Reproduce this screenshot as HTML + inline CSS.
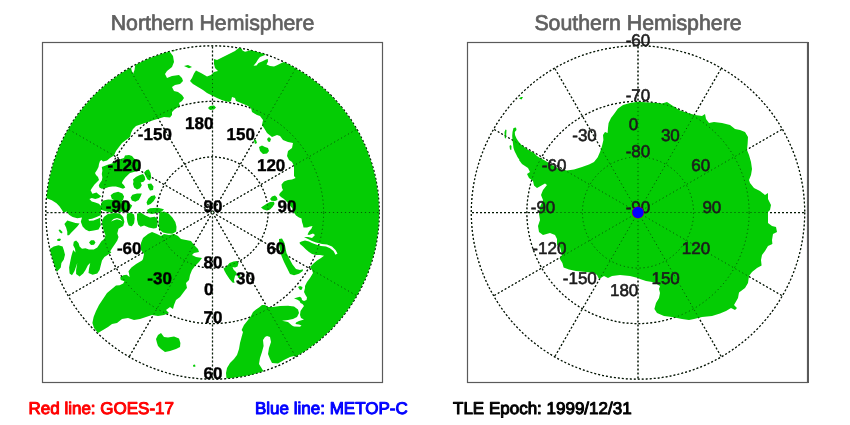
<!DOCTYPE html>
<html><head><meta charset="utf-8"><title>Hemispheres</title>
<style>
html,body{margin:0;padding:0;background:#fff;}
body{width:850px;height:425px;overflow:hidden;font-family:"Liberation Sans",sans-serif;}
svg{display:block;font-family:"Liberation Sans",sans-serif;text-rendering:geometricPrecision;will-change:transform;}
</style></head><body>
<svg width="850" height="425" viewBox="0 0 850 425">
<defs>
<clipPath id="cn"><circle cx="212.5" cy="212.5" r="166.7"/></clipPath>
<clipPath id="cs"><circle cx="638.0" cy="212.5" r="166.7"/></clipPath>
</defs>
<rect width="850" height="425" fill="#fff"/>
<g font-size="21.3" fill="#606060" stroke="#606060" stroke-width="0.7" text-anchor="middle">
<text x="212.5" y="30.4">Northern Hemisphere</text>
<text x="638" y="30.4">Southern Hemisphere</text>
</g>
<g fill="none" stroke="#000" stroke-width="1.25" stroke-dasharray="2 2"><circle cx="212.5" cy="212.5" r="55.57"/><circle cx="212.5" cy="212.5" r="111.13"/><circle cx="212.5" cy="212.5" r="166.70"/><line x1="212.5" y1="212.5" x2="212.50" y2="45.80"/><line x1="212.5" y1="212.5" x2="295.85" y2="68.13"/><line x1="212.5" y1="212.5" x2="356.87" y2="129.15"/><line x1="212.5" y1="212.5" x2="379.20" y2="212.50"/><line x1="212.5" y1="212.5" x2="356.87" y2="295.85"/><line x1="212.5" y1="212.5" x2="295.85" y2="356.87"/><line x1="212.5" y1="212.5" x2="212.50" y2="379.20"/><line x1="212.5" y1="212.5" x2="129.15" y2="356.87"/><line x1="212.5" y1="212.5" x2="68.13" y2="295.85"/><line x1="212.5" y1="212.5" x2="45.80" y2="212.50"/><line x1="212.5" y1="212.5" x2="68.13" y2="129.15"/><line x1="212.5" y1="212.5" x2="129.15" y2="68.13"/></g>
<g fill="none" stroke="#000" stroke-width="1.25" stroke-dasharray="2 2"><circle cx="638.0" cy="212.5" r="55.57"/><circle cx="638.0" cy="212.5" r="111.13"/><circle cx="638.0" cy="212.5" r="166.70"/><line x1="638.0" y1="212.5" x2="638.00" y2="45.80"/><line x1="638.0" y1="212.5" x2="721.35" y2="68.13"/><line x1="638.0" y1="212.5" x2="782.37" y2="129.15"/><line x1="638.0" y1="212.5" x2="804.70" y2="212.50"/><line x1="638.0" y1="212.5" x2="782.37" y2="295.85"/><line x1="638.0" y1="212.5" x2="721.35" y2="356.87"/><line x1="638.0" y1="212.5" x2="638.00" y2="379.20"/><line x1="638.0" y1="212.5" x2="554.65" y2="356.87"/><line x1="638.0" y1="212.5" x2="493.63" y2="295.85"/><line x1="638.0" y1="212.5" x2="471.30" y2="212.50"/><line x1="638.0" y1="212.5" x2="493.63" y2="129.15"/><line x1="638.0" y1="212.5" x2="554.65" y2="68.13"/></g>
<g clip-path="url(#cn)"><path fill="#04cc04" fill-rule="evenodd" d="M45.9,198.0 51.8,200.3 56.5,203.2 59.4,206.2 61.8,209.7 63.5,212.4 66.7,211.5 69.0,214.7 72.6,217.0 77.3,218.2 82.0,217.6 80.8,221.8 82.6,226.5 85.5,229.4 89.0,231.2 93.8,230.6 98.5,229.4 100.8,225.3 100.2,221.2 100.5,217.4 98.0,218.8 93.5,220.6 89.0,220.8 88.5,219.3 92.0,218.8 96.0,217.2 100.0,215.5 100.7,214.9 100.8,213.0 101.2,209.2 101.2,209.7 104.7,211.1 109.6,212.2 120.0,212.0 128.7,211.1 130.8,208.3 132.2,205.5 129.4,203.4 125.0,201.0 121.5,200.5 123.0,200.0 124.1,196.5 122.4,193.5 118.2,191.8 113.5,193.0 110.6,195.3 111.8,198.8 113.9,199.9 111.8,199.8 108.2,199.5 103.3,200.5 101.0,203.5 101.1,206.1 98.8,203.8 95.3,202.6 91.8,201.5 89.4,199.0 91.8,198.0 95.3,199.0 98.8,198.0 101.2,196.2 98.8,194.4 96.5,192.6 92.4,193.8 90.6,190.3 92.0,188.0 94.5,184.5 97.0,182.0 99.0,180.0 98.0,177.0 96.0,175.0 95.0,173.0 97.0,170.0 98.5,167.0 99.0,164.0 100.0,161.0 101.5,160.0 103.0,161.5 107.0,160.5 110.0,158.0 114.0,155.5 116.0,151.0 119.0,147.0 122.0,143.0 126.0,140.0 130.0,137.0 131.0,133.0 133.0,129.0 136.0,126.0 142.0,124.0 148.0,122.0 154.0,120.0 159.0,118.5 164.0,117.0 170.0,117.6 172.0,115.0 172.0,112.0 175.0,109.0 180.0,106.0 179.0,103.0 182.0,101.0 184.0,98.0 182.0,95.0 178.0,92.0 174.0,91.0 172.0,87.0 175.0,85.0 180.0,84.0 183.0,81.0 182.0,78.0 179.0,75.0 172.0,76.0 167.0,78.0 165.0,74.0 167.0,71.0 172.0,67.0 174.0,62.0 173.0,56.0 170.0,52.0 170.0,25.0 25.0,25.0 25.0,198.0ZM135.5,63.0 134.5,70.0 133.0,74.0 131.5,70.0 130.5,64.0ZM214.0,59.0 214.0,64.0 215.0,68.0 218.0,71.0 214.0,72.0 211.0,75.0 207.0,76.4 201.0,73.0 196.0,70.4 194.0,73.6 192.0,78.0 190.0,81.0 193.0,84.0 198.0,87.0 203.0,90.0 207.0,93.0 212.0,95.6 217.0,98.0 223.0,100.4 229.0,102.0 231.0,101.0 232.0,97.0 235.0,98.0 236.0,101.0 241.0,103.0 247.0,105.6 251.0,108.0 252.0,112.0 257.0,115.0 260.0,116.0 263.0,120.0 262.0,125.0 264.0,128.0 267.0,133.0 272.0,137.0 277.0,135.0 280.0,136.0 283.0,140.0 288.0,142.0 293.0,143.0 292.0,148.0 288.0,151.0 287.0,156.0 289.0,160.0 292.0,162.0 294.0,166.0 294.0,171.0 294.0,176.0 295.6,178.0 292.0,179.5 288.0,180.0 284.0,181.5 281.5,184.5 282.0,188.0 283.0,190.0 280.0,193.0 279.0,195.0 281.0,197.0 284.0,199.0 288.0,203.0 292.0,208.0 294.0,212.5 296.0,215.5 299.0,217.5 301.5,218.5 302.0,222.0 303.0,225.0 303.5,227.5 307.0,227.5 310.0,226.5 312.5,226.0 311.5,228.5 309.0,231.5 307.5,234.5 309.0,235.0 313.0,233.5 315.0,235.0 312.0,238.0 308.0,237.0 304.0,237.0 307.0,238.5 312.0,241.0 316.0,242.5 322.0,244.0 327.0,244.5 332.0,246.5 335.5,250.0 337.5,253.5 335.5,254.7 333.5,251.0 330.0,248.2 326.0,246.5 321.0,246.0 316.0,244.5 312.0,243.0 309.0,241.5 305.0,240.5 301.5,241.5 299.5,242.5 300.0,244.0 303.0,246.5 306.0,249.5 309.0,252.0 312.0,254.0 316.0,255.0 320.0,255.0 324.0,255.8 321.0,258.0 317.0,260.5 313.5,263.5 310.0,267.0 312.0,270.0 313.0,273.0 310.0,278.0 307.0,282.0 305.0,286.0 305.0,288.0 304.0,292.0 305.5,295.0 307.0,297.5 306.5,300.0 304.0,301.0 302.0,300.0 301.5,298.0 300.0,296.8 297.0,297.5 294.0,298.5 297.0,299.5 299.5,301.0 300.5,303.0 302.5,304.0 304.0,306.0 302.5,308.0 300.5,311.0 300.0,315.0 301.0,318.0 304.0,319.5 299.0,321.0 296.0,322.5 295.5,324.0 299.0,324.5 301.5,325.5 300.0,326.8 294.0,326.5 292.0,325.5 288.0,322.0 282.0,320.8 288.0,320.0 293.0,319.0 297.0,317.0 299.0,313.0 298.0,309.5 294.0,306.5 288.0,305.8 280.0,306.0 273.0,307.0 268.0,307.0 265.0,305.0 262.0,305.0 259.0,307.5 256.0,309.5 253.0,312.0 251.0,316.0 248.0,320.0 244.0,325.0 241.6,330.0 243.0,332.0 241.6,337.0 240.0,343.0 239.0,349.0 237.0,355.0 234.0,359.0 230.0,363.0 227.0,368.0 226.0,373.0 226.5,379.0 226.0,400.0 430.0,400.0 430.0,15.0 240.0,15.0 240.0,47.0 235.0,51.0 229.0,54.0 223.0,57.0 217.0,60.0ZM241.0,44.0 250.0,44.0 250.0,50.3 248.0,51.0 245.0,51.8 242.5,50.5 240.8,47.0ZM275.0,45.0 290.0,55.0 285.0,61.5 281.0,63.2 277.0,65.2 274.0,66.5 270.0,66.0 266.5,64.5 268.0,61.5 267.8,59.0 266.0,59.5 262.0,61.5 258.5,63.0 256.5,65.5 253.5,65.8 256.2,62.5 258.0,59.5 260.0,57.0 265.0,55.0 268.0,53.0ZM267.0,336.0 270.0,337.0 271.0,342.0 269.0,348.0 268.0,354.0 270.0,359.0 272.0,363.0 278.0,363.6 284.0,360.0 290.0,357.0 294.0,356.0 302.0,362.0 275.0,385.0 264.0,372.0 259.0,364.0 260.0,358.0 262.0,352.0 263.6,346.0 263.0,340.0 265.0,337.0ZM60.8,267.6 61.4,263.0 63.8,259.4 65.0,254.7 63.8,250.0 62.6,246.5 58.5,245.3 53.8,246.5 50.2,248.8 40.0,248.0 40.0,275.0 56.7,272.0 58.5,270.0ZM99.4,187.6 101.8,188.8 105.3,188.2 108.8,187.0 112.4,186.5 115.9,186.5 119.4,187.6 123.0,188.8 125.3,187.6 124.0,185.3 121.8,183.0 123.0,180.6 125.3,177.6 127.6,175.3 130.0,173.0 134.7,171.8 138.8,170.6 140.0,167.0 139.5,163.0 137.0,160.0 134.0,158.5 132.0,156.0 129.0,155.0 125.0,155.5 124.0,158.0 119.0,159.5 113.5,163.0 107.6,164.7 101.8,167.0 102.4,170.6 101.8,174.0 102.4,177.6 101.8,180.6 100.0,183.0 98.8,185.3ZM148.8,169.4 146.5,170.0 144.1,172.4 144.7,174.1 145.9,176.5 147.6,179.4 150.0,180.6 151.2,177.0 150.6,173.0ZM140.6,182.4 143.5,181.8 145.3,179.4 144.7,176.5 143.0,174.1 139.4,175.3 135.9,177.0 133.0,179.4 133.5,181.8 133.0,184.1 134.1,187.6 137.0,189.4 140.0,188.2 141.8,185.3ZM148.2,187.6 150.0,190.6 153.0,190.0 153.5,186.5 151.2,183.5 147.6,184.1ZM132.4,194.7 130.6,197.6 131.8,200.6 135.3,201.8 138.8,200.0 140.6,196.5 141.8,193.5 137.0,193.5ZM148.2,198.8 146.5,202.4 147.6,205.3 150.6,204.1 153.5,201.2 155.9,197.6 154.7,195.3 151.2,195.9ZM134.1,214.4 130.6,212.6 127.0,213.8 126.7,217.4 127.4,222.0 128.8,225.6 131.8,226.2 134.1,223.2 134.7,218.5ZM156.6,228.0 157.6,224.4 157.2,218.5 154.7,216.8 150.0,217.4 145.3,215.6 140.6,212.6 137.0,213.8 137.0,219.7 138.2,224.4 140.6,226.8 144.1,225.6 148.8,227.4 153.5,228.5ZM77.3,226.5 79.6,223.5 75.5,223.0 71.4,221.8 67.3,220.6 64.4,224.1 66.1,227.6 67.3,231.8 67.3,235.3 69.0,235.3 71.4,232.4 74.4,229.4ZM62.0,233.5 62.5,232.0 60.0,229.5 58.5,230.0 60.0,232.5ZM60.0,241.0 61.0,239.0 59.0,238.5 57.0,239.5 57.5,241.0ZM91.0,245.0 94.0,244.8 95.5,242.5 94.0,240.2 91.0,240.2 89.0,242.5ZM97.3,247.6 93.8,249.4 89.0,249.4 85.5,248.2 82.0,248.8 79.6,246.5 78.5,243.0 76.1,240.6 73.8,241.8 73.2,245.3 75.0,248.8 75.5,252.4 73.2,250.0 71.4,255.9 70.2,261.8 69.1,267.6 69.6,273.5 72.0,275.3 74.4,271.2 76.1,266.5 77.3,263.0 76.1,270.0 76.1,274.1 79.6,276.5 83.2,273.5 85.5,270.0 87.9,265.3 90.2,263.0 89.0,268.8 88.5,273.0 92.6,274.7 97.3,273.5 99.6,270.0 100.8,265.3 102.0,260.6 104.4,257.0 107.9,254.7 111.4,252.4 110.2,251.2 112.6,247.6 115.0,244.1 117.3,240.6 118.5,237.0 117.3,233.5 118.5,228.8 123.2,225.9 124.4,221.8 123.2,217.0 119.6,213.5 113.8,213.0 107.9,214.1 103.8,217.0 102.0,221.2 102.6,226.5 103.8,231.2 105.5,235.3 104.4,238.8 101.4,241.2 99.6,244.1ZM113.5,219.0 117.0,218.0 120.5,219.0 122.5,221.5 120.5,220.3 117.0,219.3 114.0,220.2 111.0,221.5ZM134.0,320.0 140.0,319.0 146.0,317.0 152.0,315.0 158.0,316.0 164.0,315.0 169.0,313.0 166.0,310.0 170.0,307.0 173.0,309.0 174.0,305.0 176.0,300.0 180.0,297.0 183.0,293.0 186.0,289.0 187.0,288.0 186.0,283.0 189.0,280.0 190.0,275.0 192.0,270.0 195.0,266.0 199.0,262.0 202.0,258.0 196.0,257.0 192.0,255.0 194.0,253.0 199.0,252.0 198.0,249.0 194.0,245.0 191.0,241.0 186.0,240.0 181.0,239.0 178.0,236.0 174.0,234.0 169.0,235.0 164.0,234.0 161.0,236.0 157.0,234.0 152.0,232.0 148.0,234.0 143.0,238.0 141.0,243.0 141.0,250.0 144.0,254.0 143.0,259.0 142.0,260.6 136.1,264.1 131.4,267.6 128.5,271.2 129.0,273.5 129.6,277.0 126.7,274.7 123.2,275.3 120.2,277.6 120.8,280.0 124.4,281.2 123.2,283.5 119.6,285.3 116.0,285.5 113.0,288.0 107.0,293.0 103.0,299.0 99.0,305.0 96.0,311.0 93.6,317.0 92.4,323.0 94.0,328.0 98.0,333.0 103.0,330.0 108.0,327.0 112.0,324.0 117.0,323.0 122.0,319.0 128.0,318.0ZM173.5,49.8 171.0,50.5 173.5,51.6 176.0,50.2ZM188.0,65.0 184.0,66.0 189.0,68.2 192.0,67.0ZM210.0,110.0 214.0,109.5 216.0,107.5 214.0,105.6 210.0,106.0 208.0,108.0ZM270.0,142.0 271.0,139.0 269.0,137.0 267.0,139.0 268.0,141.5ZM256.0,140.0 253.6,139.6 255.0,144.0 257.0,143.0ZM262.0,145.6 259.0,147.0 260.0,151.0 263.0,154.0 267.0,153.6 269.0,151.0 268.0,148.0 265.0,147.0ZM270.0,199.0 271.5,200.8 275.0,201.0 277.5,200.0 277.0,197.5 275.0,195.5 272.0,196.5ZM270.0,202.0 267.0,203.5 264.0,205.5 261.0,207.5 263.5,209.5 267.0,210.5 270.0,209.5 272.5,207.0 274.5,204.0 274.0,201.8ZM150.0,208.3 147.0,210.0 148.0,213.0 152.0,214.0 158.0,212.8 162.0,211.5 164.0,209.3 158.0,207.8ZM176.2,231.5 176.5,226.8 175.3,222.0 172.4,217.4 168.8,213.8 164.1,211.5 159.4,212.6 159.0,218.5 158.6,224.4 159.4,229.5 163.0,232.6 167.6,233.6 172.4,233.8ZM294.0,275.2 299.0,273.7 302.8,271.0 303.0,269.3 300.0,270.0 296.0,269.0 292.5,264.5 289.5,259.0 286.5,253.0 285.5,248.0 284.5,243.0 282.0,238.5 279.0,239.0 279.0,245.0 280.0,250.0 281.5,256.0 284.0,262.0 287.0,268.0 290.0,274.0ZM235.0,276.0 237.0,274.0 236.0,272.0 233.5,269.5 232.5,267.0 235.0,267.5 237.5,266.5 238.5,263.0 237.0,261.0 233.5,261.5 229.5,263.0 226.5,266.5 223.5,268.5 224.5,271.0 226.5,274.5 229.5,279.0 232.5,282.5 234.5,283.0 234.0,280.0ZM240.0,274.5 237.5,274.5 238.0,278.0 240.5,277.5ZM302.0,289.5 302.5,287.0 300.0,286.0 298.0,287.0 300.0,290.0ZM180.0,347.0 180.4,343.0 179.0,338.6 174.0,336.6 168.0,337.4 164.0,337.0 161.0,333.0 158.0,335.0 156.0,339.0 157.0,343.0 158.0,346.0 161.0,349.0 165.0,352.0 170.0,351.0 176.0,349.0ZM195.0,364.5 193.0,365.0 193.5,367.0 195.5,366.5Z"/></g>
<g clip-path="url(#cs)"><path fill="#04cc04" fill-rule="evenodd" d="M523.0,97.0 521.0,97.0 519.0,98.5 521.5,99.5ZM506.0,138.5 506.5,130.0 505.5,129.5 504.5,132.0 504.8,138.0ZM511.3,150.0 511.5,146.0 510.5,145.0 509.5,146.0 510.0,149.5ZM562.0,255.0 559.6,258.6 562.4,263.0 563.6,267.4 569.0,269.4 576.0,271.0 586.0,272.0 594.0,273.0 597.0,275.0 599.0,279.0 604.0,276.0 608.0,278.0 612.0,276.0 620.0,275.0 630.0,276.0 638.0,278.0 640.0,279.0 646.0,281.0 652.0,282.0 655.0,283.0 660.0,286.0 659.0,289.0 660.0,293.0 659.0,298.0 656.0,303.0 654.4,309.0 657.0,313.0 664.0,316.0 672.0,317.0 682.0,319.0 689.0,320.0 694.0,319.0 702.0,317.0 712.0,316.0 720.0,313.6 726.0,311.0 731.0,308.0 735.0,310.0 737.0,308.0 734.0,305.0 738.0,298.0 739.0,292.4 745.0,288.0 748.0,283.0 749.0,276.0 752.0,272.0 757.0,268.0 761.6,265.6 761.0,260.0 762.0,255.0 765.0,251.0 768.0,246.0 772.4,244.0 772.0,240.0 773.0,234.0 777.0,232.0 776.0,227.0 772.0,226.0 768.0,223.0 768.0,212.0 770.0,210.0 771.0,205.0 768.0,199.0 768.0,193.0 765.0,195.0 760.0,191.0 754.0,188.0 750.0,183.0 749.0,180.0 751.0,175.0 752.0,169.0 751.0,162.0 749.0,155.0 747.0,150.0 747.6,144.0 748.0,137.0 745.0,132.0 740.0,130.0 735.0,129.0 730.0,125.0 722.0,123.0 714.0,122.0 709.0,123.0 706.0,119.0 705.0,114.0 702.0,116.0 695.0,115.0 688.0,113.0 680.0,110.6 673.0,106.0 667.0,102.0 662.0,103.4 658.0,103.0 648.0,102.6 638.0,101.8 630.0,103.0 623.0,105.0 618.0,108.6 614.4,113.4 611.0,118.0 608.6,123.0 608.0,128.0 607.6,133.0 605.0,132.0 603.0,135.0 603.4,140.0 602.0,146.0 600.0,152.0 597.6,157.4 594.0,162.0 589.0,164.6 582.0,167.0 574.0,169.4 567.0,170.6 560.0,169.4 552.0,165.0 548.0,162.5 544.0,160.0 540.0,158.0 537.0,156.0 535.0,154.0 533.5,152.5 530.0,151.0 527.0,149.0 524.0,147.0 521.0,144.5 518.5,141.5 516.5,138.5 515.0,135.0 514.8,132.0 516.5,130.0 516.0,127.5 513.5,128.0 512.5,132.0 512.2,136.0 512.5,140.0 513.0,144.0 513.5,148.0 514.5,151.0 516.0,154.0 517.5,157.0 519.5,160.0 519.0,160.0 522.0,164.0 528.0,168.0 530.0,172.0 527.0,174.0 529.0,178.0 533.0,181.0 534.0,185.6 537.0,188.0 545.0,183.6 547.0,185.0 543.0,190.0 541.0,195.0 543.0,200.0 540.0,207.0 539.0,214.0 540.0,220.0 538.0,226.0 539.0,232.0 543.0,235.0 550.0,233.0 555.0,235.0 557.0,239.0 557.0,245.0 560.0,247.0Z"/></g>
<g fill="none" stroke="#063806" stroke-opacity="0.75" stroke-width="1" stroke-dasharray="1.2 2.8" stroke-dashoffset="-0.4"><circle cx="212.5" cy="212.5" r="55.57"/><circle cx="212.5" cy="212.5" r="111.13"/><circle cx="212.5" cy="212.5" r="166.70"/><line x1="212.5" y1="212.5" x2="212.50" y2="45.80"/><line x1="212.5" y1="212.5" x2="295.85" y2="68.13"/><line x1="212.5" y1="212.5" x2="356.87" y2="129.15"/><line x1="212.5" y1="212.5" x2="379.20" y2="212.50"/><line x1="212.5" y1="212.5" x2="356.87" y2="295.85"/><line x1="212.5" y1="212.5" x2="295.85" y2="356.87"/><line x1="212.5" y1="212.5" x2="212.50" y2="379.20"/><line x1="212.5" y1="212.5" x2="129.15" y2="356.87"/><line x1="212.5" y1="212.5" x2="68.13" y2="295.85"/><line x1="212.5" y1="212.5" x2="45.80" y2="212.50"/><line x1="212.5" y1="212.5" x2="68.13" y2="129.15"/><line x1="212.5" y1="212.5" x2="129.15" y2="68.13"/></g>
<g fill="none" stroke="#063806" stroke-opacity="0.75" stroke-width="1" stroke-dasharray="1.2 2.8" stroke-dashoffset="-0.4"><circle cx="638.0" cy="212.5" r="55.57"/><circle cx="638.0" cy="212.5" r="111.13"/><circle cx="638.0" cy="212.5" r="166.70"/><line x1="638.0" y1="212.5" x2="638.00" y2="45.80"/><line x1="638.0" y1="212.5" x2="721.35" y2="68.13"/><line x1="638.0" y1="212.5" x2="782.37" y2="129.15"/><line x1="638.0" y1="212.5" x2="804.70" y2="212.50"/><line x1="638.0" y1="212.5" x2="782.37" y2="295.85"/><line x1="638.0" y1="212.5" x2="721.35" y2="356.87"/><line x1="638.0" y1="212.5" x2="638.00" y2="379.20"/><line x1="638.0" y1="212.5" x2="554.65" y2="356.87"/><line x1="638.0" y1="212.5" x2="493.63" y2="295.85"/><line x1="638.0" y1="212.5" x2="471.30" y2="212.50"/><line x1="638.0" y1="212.5" x2="493.63" y2="129.15"/><line x1="638.0" y1="212.5" x2="554.65" y2="68.13"/></g>
<g fill="none" stroke="#5a5a5a" stroke-width="1.2">
<rect x="42.5" y="42.5" width="340" height="340"/>
<rect x="467.5" y="42.5" width="340" height="340"/>
<line x1="808" y1="42" x2="808" y2="383" stroke-width="2"/>
</g>
<g font-size="17" font-weight="bold" fill="#000" stroke="#000" stroke-width="0.4" stroke-linejoin="round" text-rendering="geometricPrecision"><text x="171.9" y="140.1" text-anchor="end">-150</text><text x="141.5" y="170.5" text-anchor="end">-120</text><text x="130.4" y="212.0" text-anchor="end">-90</text><text x="141.5" y="253.5" text-anchor="end">-60</text><text x="171.9" y="283.9" text-anchor="end">-30</text><text x="213.4" y="295.0" text-anchor="end">0</text><text x="254.9" y="283.9" text-anchor="end">30</text><text x="285.3" y="253.5" text-anchor="end">60</text><text x="296.4" y="212.0" text-anchor="end">90</text><text x="285.3" y="170.5" text-anchor="end">120</text><text x="254.9" y="140.1" text-anchor="end">150</text><text x="213.4" y="129.0" text-anchor="end">180</text><text x="213.0" y="212.0" text-anchor="middle">90</text><text x="213.0" y="267.6" text-anchor="middle">80</text><text x="213.0" y="323.1" text-anchor="middle">70</text><text x="213.0" y="378.7" text-anchor="middle">60</text></g>
<g font-size="17" font-weight="normal" fill="#1c1c1c" stroke="#1c1c1c" stroke-width="0.6" stroke-linejoin="round" text-rendering="geometricPrecision"><text x="596.8" y="284.4" text-anchor="end">-150</text><text x="566.4" y="254.0" text-anchor="end">-120</text><text x="555.3" y="212.5" text-anchor="end">-90</text><text x="566.4" y="171.0" text-anchor="end">-60</text><text x="596.8" y="140.6" text-anchor="end">-30</text><text x="638.3" y="129.5" text-anchor="end">0</text><text x="679.8" y="140.6" text-anchor="end">30</text><text x="710.2" y="171.0" text-anchor="end">60</text><text x="721.3" y="212.5" text-anchor="end">90</text><text x="710.2" y="254.0" text-anchor="end">120</text><text x="679.8" y="284.4" text-anchor="end">150</text><text x="638.3" y="295.5" text-anchor="end">180</text><text x="638.0" y="212.5" text-anchor="middle">-90</text><text x="638.0" y="156.9" text-anchor="middle">-80</text><text x="638.0" y="101.4" text-anchor="middle">-70</text><text x="638.0" y="45.8" text-anchor="middle">-60</text></g>
<circle cx="212.5" cy="212.5" r="0.9" fill="#fff"/>
<circle cx="638.0" cy="212.5" r="6" fill="#ff0000"/>
<circle cx="638.0" cy="212.5" r="5.7" fill="#0000ff"/>
<g font-size="17" stroke-width="1.0" stroke-linejoin="round">
<text x="28.5" y="413.6" fill="#ff0000" stroke="#ff0000">Red line: GOES-17</text>
<text x="255" y="413.6" fill="#0000ff" stroke="#0000ff">Blue line: METOP-C</text>
<text x="453" y="413.6" fill="#000" stroke="#000">TLE Epoch: 1999/12/31</text>
</g>
</svg>
</body></html>
